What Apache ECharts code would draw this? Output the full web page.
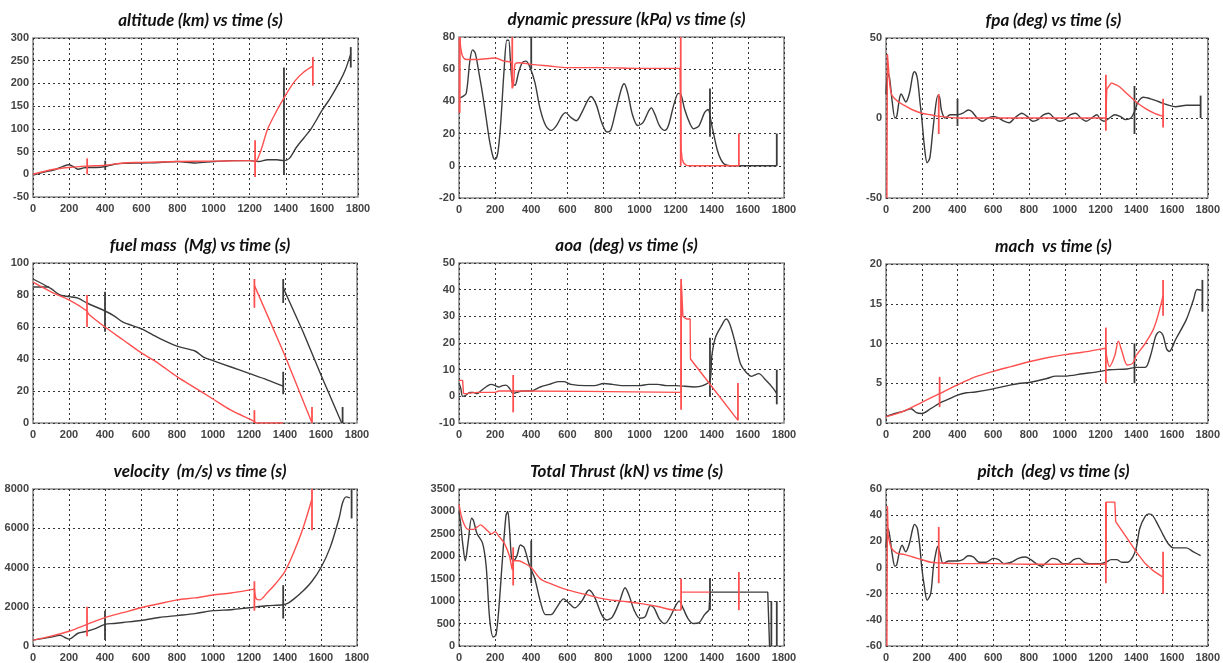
<!DOCTYPE html>
<html><head><meta charset="utf-8">
<script src="https://cdn.jsdelivr.net/npm/echarts@6/dist/echarts.min.js"></script>
<style>html,body{margin:0;padding:0;background:#fff}#c{width:1223px;height:663px}</style>
</head><body><div id="c"></div>
<script>
// ---------- DATA ----------
const timeTicks = [0,200,400,600,800,1000,1200,1400,1600,1800];

// altitude (km)
const altBlack = [[0,-2],[50,4],[120,10],[170,18],[200,21],[230,15],[250,11],[280,14],[300,15],[350,15],[400,17],[450,22],[500,24],[600,25],[700,26],[800,28],[900,25],[1000,28],[1100,30],[1200,30],[1250,28],[1300,32],[1350,32],[1390,30],[1420,35],[1460,60],[1500,80],[1540,100],[1600,140],[1650,170],[1700,205],[1730,230],[1760,265]];
const altRed = [[0,0],[100,10],[200,15],[300,18],[400,20],[500,25],[600,26],[800,28],[1000,29],[1200,30],[1230,28],[1260,50],[1300,100],[1350,140],[1400,175],[1450,205],[1500,225],[1550,238]];
const altBlackMarks = [[400,10,30],[1390,0,235],[1760,235,280]];
const altRedMarks = [[300,0,35],[1230,-6,75],[1550,195,258]];

// dynamic pressure (kPa)
const qBlack = [[0,42],[20,43],[40,45],[60,65],[75,72],[90,70],[110,58],[130,45],[150,30],[170,15],[190,5],[200,4],[215,8],[230,25],[250,60],[265,78],[275,78],[285,65],[295,52],[310,50],[330,58],[350,64],[370,65],[390,62],[420,52],[450,35],[480,25],[510,22],[540,25],[570,31],[590,33],[620,30],[650,28],[680,33],[710,40],[730,43],[760,38],[790,27],[820,21],[840,22],[870,35],[900,48],[915,51],[935,45],[960,32],[990,25],[1020,27],[1050,34],[1065,36],[1085,32],[1110,25],[1140,22],[1160,25],[1190,38],[1215,45],[1230,44],[1250,35],[1280,26],[1300,23],[1330,25],[1360,33],[1380,35],[1395,28],[1410,20],[1430,10],[1450,4],[1470,1],[1500,0],[1760,0]];
const qRed = [[5,80],[10,73],[20,68],[40,66],[100,66],[200,67],[250,65],[290,64],[295,55],[300,49],[305,55],[310,63],[330,64],[400,63],[500,62],[600,61],[800,61],[1000,60.5],[1225,60.5]];
const qRedSharp = [[3,33],[5,80]];
const qRedSharp2 = [[1225,60.5],[1230,10],[1236,4],[1245,1.5],[1260,0.3],[1275,0],[1550,0]];
const qBlackMarks = [[400,60,80],[1390,18,48],[1760,0,20]];
const qRedMarks = [[3,33,80],[295,48,80],[1228,0,80],[1550,0,20]];

// fpa (deg)
const fpaBlack = [[0,15],[10,28],[20,25],[35,10],[50,0],[60,1],[75,12],[85,15],[100,12],[110,10],[130,15],[150,27],[160,29],[175,25],[190,10],[200,0],[215,-18],[230,-28],[245,-25],[260,-10],[275,5],[290,14],[300,13],[310,5],[330,0],[360,2],[400,2],[430,3],[460,5],[480,4],[510,0],[540,-2],[570,0],[600,1],[630,0],[660,-2],[690,-3],[720,0],[760,3],[790,1],[820,-2],[850,-1],[880,2],[910,3],[940,0],[970,-2],[1000,-1],[1030,2],[1060,3],[1090,0],[1120,-2],[1150,0],[1180,2],[1200,-1],[1220,-2],[1250,0],[1280,2],[1310,1],[1340,-1],[1370,0],[1390,4],[1410,10],[1440,13],[1480,12],[1530,10],[1580,8],[1620,7],[1680,8],[1760,8]];
const fpaRed = [[15,30],[30,15],[60,11],[100,8],[150,5],[200,3],[250,2],[300,1],[400,0],[1230,0]];
const fpaRedSharp = [[5,-50],[8,40],[15,30]];
const fpaRedSharp2 = [[1230,0],[1235,18],[1260,22]];
const fpaRed2 = [[1260,22],[1300,20],[1350,15],[1400,10],[1450,6],[1500,3],[1550,1]];
const fpaBlackMarks = [[400,-5,12],[1390,-10,20],[1760,0,14]];
const fpaRedMarks = [[295,-10,15],[1230,-8,27],[1550,-6,12]];

// fuel mass (Mg)
const fuelBlack = [[0,90],[100,84],[150,80],[200,79],[250,78],[300,75],[400,70],[450,67],[500,63],[600,59],[700,53],[800,48],[900,45],[950,41],[1000,39],[1100,35],[1200,31],[1300,27],[1390,23]];
const fuelBlack2 = [[1390,85],[1400,82],[1500,57],[1600,30],[1715,0]];
const fuelBlack3 = [[0,85],[90,85]];
const fuelRed = [[0,88],[100,82],[200,77],[300,70],[310,68],[400,60],[500,52],[600,44],[700,37],[800,29],[900,22],[1000,15],[1100,8],[1230,1],[1240,0],[1390,0]];
const fuelRed2 = [[1230,86],[1400,42],[1550,0]];
const fuelBlackMarks = [[400,57,82],[1390,18,32],[1390,75,90],[1720,0,10]];
const fuelRedMarks = [[300,60,80],[1230,0,8],[1230,72,90],[1550,0,10]];

// aoa (deg)
const aoaBlack = [[0,5],[10,3],[20,0],[40,0.5],[60,1.5],[80,1.5],[100,1],[120,2],[160,4],[180,4.5],[200,4],[220,3.5],[240,4],[260,4.2],[280,3],[300,1],[320,1.5],[350,2],[400,2],[450,3.5],[500,4.5],[550,5.5],[580,5.5],[620,4.5],[700,4],[750,4],[800,4.8],[850,4.5],[900,4],[1000,4],[1050,4.5],[1100,4.5],[1150,4],[1200,4],[1250,3.8],[1300,3.5],[1350,4],[1390,6],[1400,15],[1420,22],[1450,26],[1480,29],[1500,27],[1530,20],[1560,12],[1590,9],[1620,7.5],[1660,8.5],[1700,6],[1740,3],[1760,1]];
const aoaRed = [[25,1],[40,1],[60,1.2],[100,1.5],[200,1.5],[220,2],[300,2],[1230,1.5]];
const aoaRedSharp = [[0,6],[20,6],[25,1]];
const aoaRedSharp2 = [[1230,1.5],[1232,42],[1240,30],[1260,29],[1280,29],[1282,14],[1545,-9]];
const aoaBlackMarks = [[1390,0,22],[1760,-3,10]];
const aoaRedMarks = [[300,-6,8],[1230,-5,44],[1545,-9,5]];

// mach
const machBlack = [[0,0.8],[50,1.2],[100,1.5],[140,1.8],[170,1.3],[200,1.2],[250,1.8],[300,2.5],[350,3],[400,3.5],[450,3.8],[500,3.9],[600,4.3],[700,4.8],[750,5],[800,5.1],[900,5.6],[950,5.9],[1000,5.9],[1100,6.2],[1200,6.5],[1250,6.7],[1350,6.8],[1400,7],[1450,7],[1480,8.5],[1510,11],[1530,11.5],[1550,11],[1570,9.3],[1585,9],[1620,10.5],[1680,13],[1720,15.5],[1740,16.8],[1765,16.7]];
const machRed = [[0,0.8],[100,1.5],[200,2.6],[300,3.7],[400,4.8],[500,5.8],[600,6.5],[700,7.1],[800,7.7],[900,8.2],[1000,8.6],[1100,8.9],[1200,9.3],[1230,9.4]];
const machRed2 = [[1230,9.4],[1235,8.3],[1250,7.1],[1280,8.5],[1300,10.3],[1320,9],[1350,7.3],[1380,7.5],[1400,8.5],[1450,10],[1500,12],[1550,16]];
const machBlackMarks = [[1390,5,10],[1770,14,18]];
const machRedMarks = [[300,2,5.8],[1230,5,12],[1550,13.5,18]];

// velocity (m/s)
const velBlack = [[0,300],[100,450],[150,550],[180,420],[200,350],[250,650],[300,750],[350,900],[400,1100],[450,1150],[500,1200],[600,1300],[700,1450],[800,1550],[900,1650],[1000,1800],[1100,1850],[1200,1950],[1300,2050],[1390,2100],[1420,2200],[1450,2400],[1500,2800],[1550,3300],[1600,4000],[1650,5000],[1700,6500],[1720,7300],[1740,7600],[1760,7550]];
const velRed = [[0,300],[100,500],[200,750],[300,1100],[400,1450],[500,1700],[600,1950],[700,2150],[800,2350],[900,2450],[1000,2600],[1100,2700],[1200,2850],[1230,2900]];
const velRed2 = [[1230,2900],[1240,2400],[1260,2350],[1300,2700],[1350,3200],[1400,3800],[1450,4800],[1500,6000],[1550,7500]];
const velBlackMarks = [[400,300,1800],[1390,1400,3100],[1770,6500,8000]];
const velRedMarks = [[300,500,2000],[1230,1800,3300],[1550,5900,8000]];

// total thrust (kN)
const thrBlack = [[0,3000],[10,2700],[20,2300],[35,1900],[50,2300],[70,2850],[80,2800],[100,2500],[130,2300],[150,1800],[170,600],[190,200],[205,250],[220,800],[240,1900],[260,2900],[270,3000],[280,2600],[290,2000],[300,1900],[320,2000],[340,2250],[360,2200],[390,1800],[420,1500],[450,1000],[480,700],[510,700],[540,850],[580,1050],[610,950],[640,850],[680,1000],[720,1250],[750,1100],[790,700],[820,580],[850,650],[890,1000],[920,1300],[940,1150],[970,800],[1000,620],[1030,650],[1060,900],[1080,850],[1110,600],[1140,500],[1170,650],[1200,900],[1220,1000],[1240,850],[1270,600],[1300,500],[1330,520],[1360,700],[1385,800]];
const thrBlackSharp = [[1385,800],[1390,1200],[1710,1200],[1720,0]];
const thrRed = [[0,3150],[20,2800],[50,2600],[80,2600],[100,2650],[120,2700],[150,2600],[180,2500],[200,2550],[220,2450],[250,2300],[280,2000],[295,1700],[300,1900],[330,1900],[360,1850],[400,1750],[450,1500],[500,1400],[600,1250],[700,1150],[800,1050],[900,1000],[1000,950],[1100,880],[1200,800],[1230,800]];
const thrRedSharp = [[1230,1200],[1390,1200]];
const thrBlackMarks = [[400,1400,2350],[1390,800,1500],[1730,0,1000],[1760,0,1000]];
const thrRedMarks = [[300,1350,2200],[1230,800,1500],[1550,800,1650]];

// pitch (deg)
const pitchBlack = [[0,15],[10,30],[20,25],[35,10],[50,1],[60,2],[75,12],[90,17],[110,12],[130,18],[150,30],[160,33],[175,30],[190,15],[200,0],[215,-15],[230,-25],[250,-20],[265,0],[280,12],[290,16],[300,12],[320,3],[350,5],[400,5],[430,6],[460,9],[490,8],[520,4],[560,4],[600,7],[630,6],[660,3],[700,4],[740,7],[780,8],[810,6],[840,3],[870,1],[900,4],[930,7],[960,6],[990,3],[1020,3],[1050,6],[1080,7],[1110,4],[1140,3],[1170,3],[1200,3],[1230,4],[1260,6],[1290,6],[1320,4],[1350,4],[1380,8],[1400,15],[1420,30],[1450,39],[1470,41],[1490,40],[1520,33],[1550,25],[1580,18],[1610,15],[1640,15],[1680,15],[1720,12],[1760,9]];
const pitchRed = [[12,25],[30,15],[60,11],[100,10],[150,8],[200,6],[250,4],[300,3.5],[400,3],[600,3],[800,2.5],[1000,2.5],[1230,2.5]];
const pitchRedSharp = [[5,-60],[8,47],[12,25]];
const pitchRedSharp2 = [[1230,2.5],[1232,50],[1280,50],[1285,35],[1350,22],[1400,12],[1450,3],[1500,-3],[1545,-7]];
const pitchRedMarks = [[295,-12,31],[1230,-12,50],[1550,-20,12]];
const pitchBlackMarks = [];

// ---------- PANELS ----------
const BLACK = '#3b3b3b', RED = '#ff5050';
const panels = [
  {title:'altitude (km) vs time (s)', min:-50, max:300, iv:50, black:[altBlack], red:[altRed], sb:[], sr:[], bm:altBlackMarks, rm:altRedMarks, box:[33,38,325,159]},
  {title:'dynamic pressure (kPa) vs time (s)', min:-20, max:80, iv:20, black:[qBlack], red:[qRed], sb:[], sr:[qRedSharp,qRedSharp2], bm:qBlackMarks, rm:qRedMarks, box:[459,37,325,161]},
  {title:'fpa (deg) vs time (s)', min:-50, max:50, iv:50, black:[fpaBlack], red:[fpaRed,fpaRed2], sb:[], sr:[fpaRedSharp,fpaRedSharp2], bm:fpaBlackMarks, rm:fpaRedMarks, box:[886,38,325,160]},
  {title:'fuel mass  (Mg) vs time (s)', min:0, max:100, iv:20, black:[fuelBlack], red:[fuelRed], sb:[fuelBlack2,fuelBlack3], sr:[fuelRed2], bm:fuelBlackMarks, rm:fuelRedMarks, box:[33,263,324,160]},
  {title:'aoa  (deg) vs time (s)', min:-10, max:50, iv:10, black:[aoaBlack], red:[aoaRed], sb:[], sr:[aoaRedSharp,aoaRedSharp2], bm:aoaBlackMarks, rm:aoaRedMarks, box:[459,263,325,160]},
  {title:'mach  vs time (s)', min:0, max:20, iv:5, black:[machBlack], red:[machRed,machRed2], sb:[], sr:[], bm:machBlackMarks, rm:machRedMarks, box:[886,264,325,159]},
  {title:'velocity  (m/s) vs time (s)', min:0, max:8000, iv:2000, black:[velBlack], red:[velRed,velRed2], sb:[], sr:[], bm:velBlackMarks, rm:velRedMarks, box:[33,489,324,160]},
  {title:'Total Thrust (kN) vs time (s)', min:0, max:3500, iv:500, black:[thrBlack], red:[thrRed], sb:[thrBlackSharp], sr:[thrRedSharp], bm:thrBlackMarks, rm:thrRedMarks, box:[459,489,325,160]},
  {title:'pitch  (deg) vs time (s)', min:-60, max:60, iv:20, black:[pitchBlack], red:[pitchRed], sb:[], sr:[pitchRedSharp,pitchRedSharp2], bm:pitchBlackMarks, rm:pitchRedMarks, box:[886,489,325,160]}
];

const grids=[], xAxes=[], yAxes=[], series=[], titles=[];
const lbl = {color:'#444', fontSize:11, fontFamily:'Liberation Sans, Arial, sans-serif', fontWeight:'bold', formatter:v=>String(v)};
const split = {show:true, lineStyle:{color:'#333', type:[2,3], width:1}};
panels.forEach((p,i)=>{
  const [l,t,w,h]=p.box;
  grids.push({left:l, top:t, width:w, height:h, show:true, borderColor:'#8a8a8a', borderWidth:1.6, backgroundColor:'#fff'});
  titles.push({text:p.title, left:l+w/2, top:t-31, textAlign:'center',
    textStyle:{fontFamily:'Lato, Liberation Sans, sans-serif', fontStyle:'italic', fontWeight:'bold', fontSize:17, color:'#111'}});
  xAxes.push({type:'value', gridIndex:i, min:0, max:1800, interval:200,
    axisLine:{show:false}, axisTick:{show:false}, axisLabel:Object.assign({margin:6}, lbl), splitLine:split});
  yAxes.push({type:'value', gridIndex:i, min:p.min, max:p.max, interval:p.iv,
    axisLine:{show:false}, axisTick:{show:false}, axisLabel:Object.assign({margin:4}, lbl), splitLine:split});
  const add=(d,c,wd,sm)=>series.push({type:'line', xAxisIndex:i, yAxisIndex:i, data:d, showSymbol:false, symbol:'none',
    lineStyle:{color:c, width:wd}, smooth:sm, silent:true, animation:false, z:c===RED?3:2});
  p.black.forEach(d=>add(d,BLACK,1.4,0.3));
  p.red.forEach(d=>add(d,RED,1.4,0.3));
  p.sb.forEach(d=>add(d,BLACK,1.4,false));
  p.sr.forEach(d=>add(d,RED,1.4,false));
  p.bm.forEach(m=>add([[m[0],m[1]],[m[0],m[2]]],BLACK,1.8,false));
  p.rm.forEach(m=>add([[m[0],m[1]],[m[0],m[2]]],RED,1.8,false));
});

const chart = echarts.init(document.getElementById('c'), null, {renderer:'canvas'});
chart.setOption({animation:false, backgroundColor:'#fff', title:titles, grid:grids, xAxis:xAxes, yAxis:yAxes, series:series});
</script></body></html>
